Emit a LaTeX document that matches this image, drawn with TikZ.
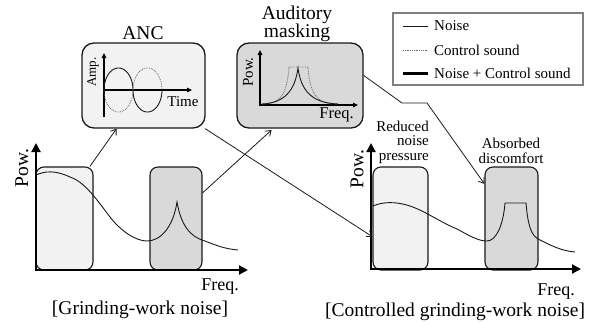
\documentclass[tikz,border=0pt]{standalone}
\usepackage{fontspec}
\setmainfont{Liberation Serif}
\usetikzlibrary{arrows.meta}
\definecolor{lightfill}{HTML}{F2F2F2}
\definecolor{darkfill}{HTML}{D9D9D9}
\definecolor{legframe}{HTML}{808080}
\definecolor{ink}{HTML}{1A1A1A}
\begin{document}
\begin{tikzpicture}[x=1pt,y=-1pt,
  lband/.style={draw=ink, line width=1.1pt, rounded corners=8pt, fill=lightfill, inner sep=0pt, minimum height=103pt},
  dband/.style={draw=ink, line width=1.1pt, rounded corners=8pt, fill=darkfill, inner sep=0pt, minimum height=103pt},
  panel/.style={draw=ink, line width=1.3pt, rounded corners=12pt, inner sep=0pt, minimum height=85pt},
  conn/.style={draw=ink, line width=0.8pt, -{Straight Barb[length=5pt,width=7pt]}},
  axis/.style={draw=black, line width=2pt, {Triangle[length=9pt,width=9pt]}-{Triangle[length=9pt,width=9pt]}},
  inaxis/.style={draw=black, line width=1.2pt, -{Triangle[length=5pt,width=4.5pt]}},
  noise/.style={draw=ink, line width=0.9pt},
  ctrl/.style={draw=black!60, line width=0.8pt, densely dotted},
  big/.style={font=\fontsize{19.5}{18}\selectfont, inner sep=0pt},
  midtext/.style={font=\fontsize{15}{14.5}\selectfont, inner sep=0pt},
  smalltext/.style={font=\fontsize{13}{13}\selectfont, inner sep=0pt}]
\useasboundingbox (0,0) rectangle (610,322);

% ---- top panels
\node[panel, fill=lightfill, minimum width=123pt] (ancbox) at (143.5,85.5) {};
\node[panel, fill=darkfill, minimum width=126pt] (maskbox) at (300,85.5) {};
\node[big] (anctitle) at (143,33) {ANC};
\node[big, align=center] (masktitle) at (297,24) {Auditory\\masking};

% ANC inset
\draw[inaxis, line width=1.6pt] (104,117) -- (104,53);
\draw[inaxis] (104,90) -- (192,90);
\draw[line width=2.8pt] (104,90) -- (162,90);
\draw[noise] plot[domain=180:0, samples=40] ({118.5+14.5*cos(\x)},{90-22*sin(\x)});
\draw[noise] plot[domain=180:360, samples=40] ({147.5+14.5*cos(\x)},{90-22*sin(\x)});
\draw[ctrl] plot[domain=180:360, samples=40] ({118.5+14.5*cos(\x)},{90-22*sin(\x)});
\draw[ctrl] plot[domain=180:0, samples=40] ({147.5+14.5*cos(\x)},{90-22*sin(\x)});
\node[smalltext, rotate=90] (amp) at (93,72) {Amp.};
\node[midtext] (time) at (183,102) {Time};

% masking inset
\draw[inaxis, line width=1.5pt] (260,105) -- (260,50);
\draw[inaxis, line width=1.5pt] (259.3,105) -- (358,105);
\draw[ctrl] (262,104) .. controls (280,104) and (287,95) .. (289,67) -- (308,67) .. controls (310,95) and (317,104) .. (338,104);
\draw[noise] (262,104) .. controls (285,103) and (295,90) .. (298,68) .. controls (301,90) and (311,103) .. (338,104);
\node[midtext, rotate=90] (mpow) at (248,72) {Pow.};
\node[midtext, anchor=east, font=\fontsize{16.5}{16}\selectfont] (mfreq) at (354,115) {Freq.};

% ---- legend
\node[draw=legframe, line width=1.2pt, minimum width=190pt, minimum height=72pt, inner sep=0pt] (legend) at (488,49) {};
\draw[noise] (403,26) -- (428,26);
\draw[ctrl] (403,50) -- (428,50);
\draw[line width=3pt] (403,73) -- (428,73);
\node[midtext, anchor=west] (l1) at (434,26) {Noise};
\node[midtext, anchor=west] (l2) at (434,50) {Control sound};
\node[midtext, anchor=west] (l3) at (434,73) {Noise + Control sound};

% ---- left plot
\node[lband, minimum width=57pt] (L1) at (64.5,218.5) {};
\node[dband, minimum width=52pt] (L2) at (176,218.5) {};
\draw[noise] (36,175) .. controls (45,171) and (55,170) .. (70,177)
  .. controls (85,182) and (97,200) .. (110,217)
  .. controls (120,230) and (135,241) .. (147,241)
  .. controls (160,241) and (173,228) .. (177,202)
  .. controls (181,225) and (190,237) .. (205,241)
  .. controls (215,245) and (225,249) .. (238,250);
\draw[axis] (36,143) -- (36,270) -- (248,270);
\node[big, rotate=90] (lpow) at (22,168) {Pow.};
\node[big, anchor=east, font=\fontsize{18}{18}\selectfont] (lfreq) at (239,287) {Freq.};
\node[big] (lcap) at (140,310) {[Grinding-work noise]};

% ---- right plot
\node[lband, minimum width=55pt] (R1) at (400.5,218.5) {};
\node[dband, minimum width=53pt] (R2) at (511.5,218.5) {};
\draw[noise] (373,206) .. controls (382,202) and (395,201) .. (410,206)
  .. controls (425,211) and (440,222) .. (457,229)
  .. controls (470,236) and (478,241) .. (487,241)
  .. controls (495,241) and (503,228) .. (505,203) -- (526,203)
  .. controls (528,226) and (531,236) .. (540,240)
  .. controls (552,246) and (562,251) .. (575,252);
\draw[axis] (371,143) -- (371,269) -- (581,269);
\node[big, rotate=90] (rpow) at (357,169) {Pow.};
\node[big, anchor=east, font=\fontsize{18}{18}\selectfont] (rfreq) at (575,292) {Freq.};
\node[big] (rcap) at (455,312) {[Controlled grinding-work noise]};
\node[midtext, align=right, anchor=east] (reduced) at (429,142) {Reduced\\noise\\pressure};
\node[midtext, align=center] (absorbed) at (511,151) {Absorbed\\discomfort};

% ---- connectors
\draw[conn] (L1.64) -- (ancbox.238);
\draw[conn, shorten >=2pt] (L2.44) -- (maskbox.238);
\draw[conn] (ancbox.-35) -- (R1.213);
\draw[conn] (maskbox.9) -- (402,103) -- (427,103) -- (R2.128);
\end{tikzpicture}
\end{document}
